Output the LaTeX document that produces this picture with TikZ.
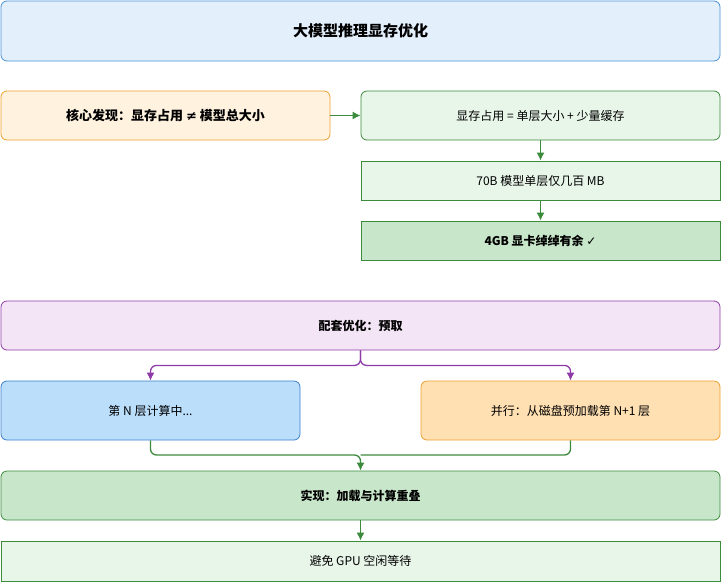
\documentclass[tikz,border=0pt]{standalone}
\usepackage{fontspec}
\setmainfont{Noto Sans CJK SC}
\newfontfamily\symfont{DejaVu Sans}
\usetikzlibrary{positioning,arrows.meta}
\definecolor{tblue}{HTML}{E3F0FC}
\definecolor{tblueline}{HTML}{4A90D9}
\definecolor{oline}{HTML}{F0A030}
\definecolor{ofill}{HTML}{FFF3E0}
\definecolor{ofill2}{HTML}{FFE0B2}
\definecolor{gline}{HTML}{3C8A3C}
\definecolor{gfill}{HTML}{E8F5E9}
\definecolor{gfill2}{HTML}{C8E6C9}
\definecolor{pline}{HTML}{8E3BA8}
\definecolor{pfill}{HTML}{F3E5F5}
\definecolor{bfill}{HTML}{BBDEFB}
\definecolor{bline}{HTML}{3A80D0}
\tikzset{
  box/.style={draw,line width=0.8pt,rounded corners=6pt,inner sep=0pt,font=\fontsize{12}{14}\selectfont},
  flat/.style={box,rounded corners=0pt},
  garrow/.style={draw=gline,line width=1.3pt,-{Latex[length=8pt,width=8pt]}},
  parrow/.style={draw=pline,line width=1.3pt,-{Latex[length=8pt,width=8pt]}}
}
\begin{document}
\begin{tikzpicture}[x=1pt,y=-1pt]
\useasboundingbox (0,0) rectangle (722,582);
% top
\node[box,fill=tblue,draw=tblueline,minimum width=719,minimum height=60,font=\fontsize{15}{17}\selectfont\bfseries] (title) at (360.5,31) {大模型推理显存优化};
\node[box,fill=ofill,draw=oline,minimum width=329,minimum height=49,font=\fontsize{13}{15}\selectfont\bfseries] (core) at (165.5,115.5) {核心发现：显存占用 {\symfont ≠} 模型总大小};
\node[box,fill=gfill,draw=gline,minimum width=359,minimum height=49] (mem) at (540.5,115.5) {显存占用 = 单层大小 + 少量缓存};
\node[flat,fill=gfill,draw=gline,minimum width=359,minimum height=39] (layer) at (540.5,180.5) {70B 模型单层仅几百 MB};
\node[flat,fill=gfill2,draw=gline,minimum width=359,minimum height=39,font=\fontsize{12}{14}\selectfont\bfseries] (card) at (540.5,240.5) {4GB 显卡绰绰有余 {\symfont ✓}};
\draw[garrow] (core) -- (mem);
\draw[garrow] (mem) -- (layer);
\draw[garrow] (layer) -- (card);
% prefetch
\node[box,fill=pfill,draw=pline,minimum width=719,minimum height=49,font=\fontsize{12}{14}\selectfont\bfseries] (pre) at (360.5,325.5) {配套优化：预取};
\node[box,fill=bfill,draw=bline,minimum width=299,minimum height=59] (comp) at (150.5,410.5) {第 N 层计算中...};
\node[box,fill=ofill2,draw=oline,minimum width=299,minimum height=59] (load) at (570.5,410.5) {并行：从磁盘预加载第 N+1 层};
\node[box,fill=gfill2,draw=gline,minimum width=719,minimum height=49,font=\fontsize{12}{14}\selectfont\bfseries] (over) at (360.5,495.5) {实现：加载与计算重叠};
\node[flat,fill=gfill,draw=gline,minimum width=719,minimum height=40] (idle) at (360.5,561) {避免 GPU 空闲等待};
\draw[parrow,rounded corners=6pt] (pre.south) -- ++(0,15) -| (comp.north);
\draw[parrow,rounded corners=6pt] (pre.south) -- ++(0,15) -| (load.north);
\draw[garrow,rounded corners=6pt] (comp.south) |- (360.5,455) -- (over.north);
\draw[draw=gline,line width=1.3pt,rounded corners=6pt] (load.south) |- (360.5,455);
\draw[garrow] (over) -- (idle);
\end{tikzpicture}
\end{document}
